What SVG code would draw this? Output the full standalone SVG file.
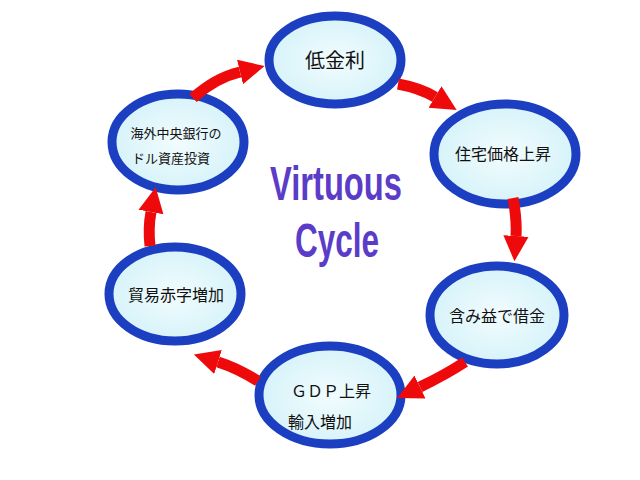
<svg xmlns="http://www.w3.org/2000/svg" width="640" height="480" viewBox="0 0 640 480">
<style>
.node ellipse{fill:url(#fillg);stroke:#1b3fc0;stroke-width:9}
.jp{font-family:"Noto Sans CJK JP","Noto Sans",sans-serif;fill:#111;text-anchor:middle}
.conn path{fill:none;stroke:#ee0a0a;stroke-width:11;stroke-linecap:butt;marker-end:url(#ah)}
.title{font-family:"Liberation Sans",Arial,sans-serif;font-size:48px;font-weight:bold;fill:#5b3cc8;text-anchor:start}
</style>
<defs>
<radialGradient id="fillg" cx="50%" cy="50%" r="55%">
<stop offset="0" stop-color="#f2fcfe"/>
<stop offset="1" stop-color="#d3f2f9"/>
</radialGradient>
<marker id="ah" viewBox="0 0 10 10" refX="0" refY="5" markerWidth="2.3" markerHeight="2.8" orient="auto">
<path d="M0,0 L10,5 L0,10 z" fill="#ee0a0a"/>
</marker>
</defs>
<rect width="640" height="480" fill="#ffffff"/>
<g id="n-low-rate" class="node">
<ellipse cx="335" cy="60" rx="66" ry="44"/>
<text class="jp" x="335" y="68" font-size="20">低金利</text>
</g>
<g id="n-housing" class="node">
<ellipse cx="505" cy="154" rx="71" ry="50"/>
<text class="jp" x="503" y="160" font-size="16">住宅価格上昇</text>
</g>
<g id="n-borrow" class="node">
<ellipse cx="497" cy="315" rx="67" ry="49"/>
<text class="jp" x="497" y="322" font-size="16">含み益で借金</text>
</g>
<g id="n-gdp" class="node">
<ellipse cx="330" cy="395" rx="71" ry="49"/>
<text class="jp" x="331" y="397" font-size="16">ＧＤＰ上昇</text>
<text class="jp" x="320" y="428" font-size="16">輸入増加</text>
</g>
<g id="n-deficit" class="node">
<ellipse cx="175" cy="294" rx="66" ry="47"/>
<text class="jp" x="176" y="301" font-size="16">貿易赤字増加</text>
</g>
<g id="n-cb" class="node">
<ellipse cx="178" cy="142" rx="66" ry="48"/>
<text class="jp" x="176" y="138" font-size="13">海外中央銀行の</text>
<text class="jp" x="171" y="163" font-size="13">ドル資産投資</text>
</g>
<g id="center-label">
<text class="title" x="270" y="200" textLength="132" lengthAdjust="spacingAndGlyphs">Virtuous</text>
<text class="title" x="295" y="257" textLength="84" lengthAdjust="spacingAndGlyphs">Cycle</text>
</g>
<g id="connectors" class="conn">
<path d="M193,98 Q215,78 240,72"/>
<path d="M398,84 Q420,88 435,97"/>
<path d="M513,198 Q517,220 516,236"/>
<path d="M465,362 Q445,375 420,387"/>
<path d="M258,381 Q237,368 218,362"/>
<path d="M150,246 Q148,228 151,212"/>
</g>
</svg>
